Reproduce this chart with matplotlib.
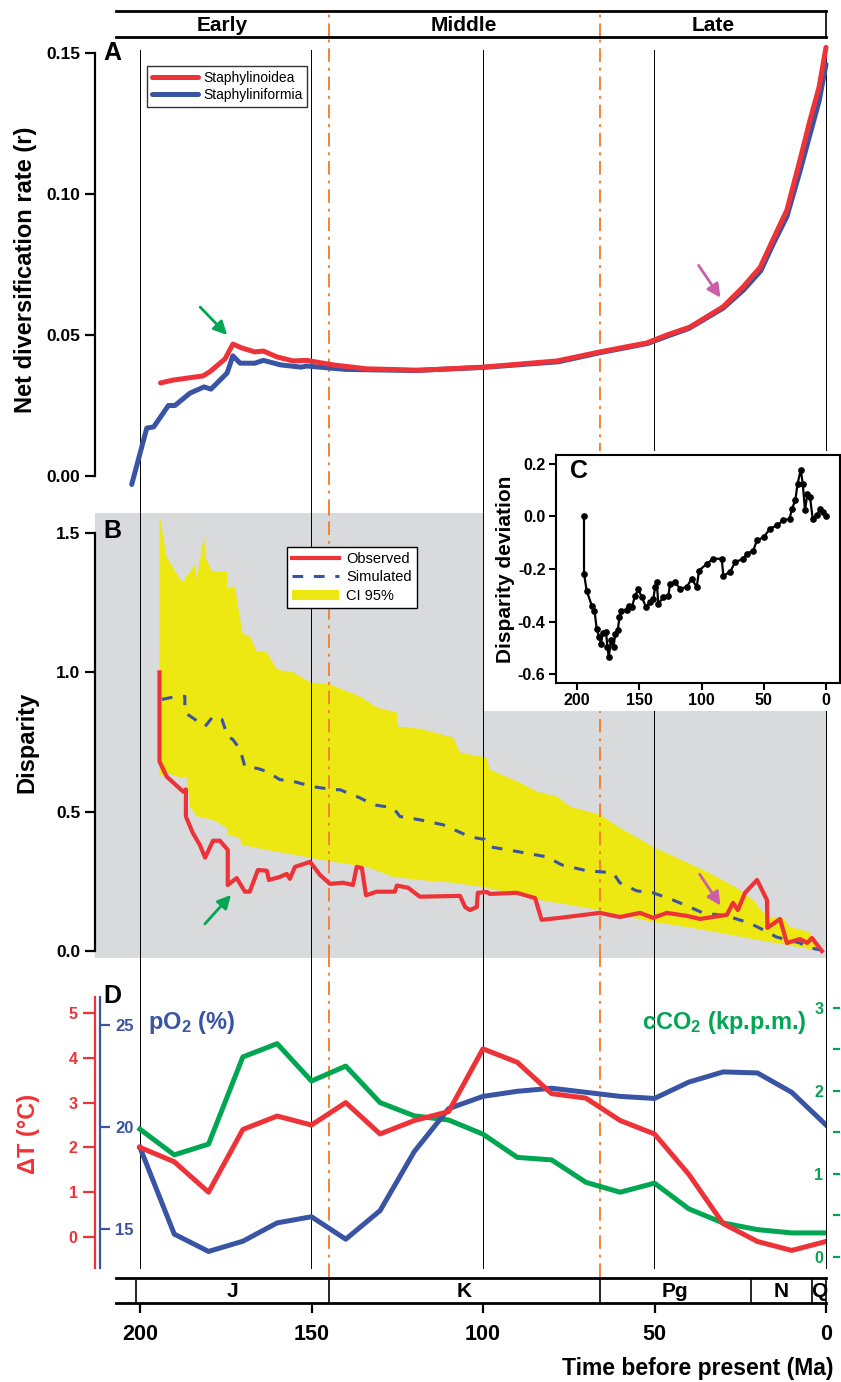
import numpy as np
import matplotlib
matplotlib.use("Agg")
import matplotlib.pyplot as plt
from matplotlib.patches import Rectangle

plt.rcParams['font.family'] = ['Liberation Sans', 'DejaVu Sans']
plt.rcParams['mathtext.fontset'] = 'custom'
plt.rcParams['mathtext.rm'] = 'Liberation Sans:bold'
plt.rcParams['mathtext.default'] = 'rm'

W, H = 841, 1382

RED = '#ee3338'
BLUE = '#3a54a4'
GREEN = '#00a651'
ORANGE = '#f58232'
YELLOW = '#ede712'
GRAY = '#d9dadc'
PINK = '#c85fa8'

# ---- time scale ----
epochs = ['Early', 'Middle', 'Late']
epoch_edges = [207, 145, 66, 0]
periods = ['J', 'K', 'Pg', 'N', 'Q']
period_edges = [201.3, 145, 66, 22, 4, 0]
grid_times = [200, 150, 100, 50, 0]
boundary_times = [145, 66]

# ---- A: net diversification rate ----
div_red_t = [194, 190.4, 181.6, 179.6, 175.2, 172.9, 170.3, 166.5, 164, 160, 155.3, 151.4,
             143.7, 133.9, 118.4, 100, 78.4, 65.9, 52.2, 46.4, 39.7, 30, 24.2, 19.2, 15.5,
             11.4, 7.6, 4.7, 2, 0]
div_red = [0.033, 0.034, 0.0355, 0.037, 0.0415, 0.0468, 0.0454, 0.044, 0.0443, 0.0422, 0.0408,
           0.041, 0.0394, 0.038, 0.0375, 0.0386, 0.0408, 0.044, 0.0472, 0.050, 0.0528, 0.060,
           0.067, 0.074, 0.0837, 0.0943, 0.112, 0.126, 0.138, 0.152]
div_blue_t = [202.4, 198, 196, 191.7, 189.8, 185.4, 181.3, 179.3, 174.6, 172.9, 170.8, 166.5,
              164, 159, 153, 151.4, 140, 120, 100, 78, 66, 52, 46, 40, 30, 24, 19, 15.5, 11.4,
              7.6, 4.7, 2, 0]
div_blue = [-0.003, 0.017, 0.0174, 0.025, 0.025, 0.0294, 0.0316, 0.0308, 0.0365, 0.0426, 0.040,
            0.040, 0.041, 0.0394, 0.0386, 0.039, 0.0378, 0.0374, 0.0385, 0.0405, 0.0437, 0.047,
            0.0497, 0.0523, 0.0595, 0.066, 0.0728, 0.082, 0.092, 0.108, 0.121, 0.133, 0.146]
arrowA_green = [(183, 0.0606), (174, 0.0493)]
arrowA_pink = [(37.6, 0.0755), (30.3, 0.0624)]

# ---- B: disparity ----
obs_t = [194.3, 194.3, 192.2, 187.4, 186.6, 186.6, 184.6, 182.5, 181, 178.7, 176.7, 174.4, 174.4,
         171.8, 169.4, 168, 165.6, 163, 162.4, 159.2, 157.2, 156.3, 154.8, 150.4, 147.5, 144.6,
         140.8, 137.9, 136.8, 135.3, 134.1, 131, 125.7, 125.1, 121.8, 118.4, 106.7, 105.2, 103.8,
         101.8, 101.5, 98.9, 98, 90.2, 84.8, 82.9, 77.6, 65.9, 60.1, 54.2, 50.4, 46.4, 40.5, 36.7,
         28.9, 27.1, 25.7, 23.6, 20.1, 17.2, 17.1, 13.4, 11.4, 7.6, 5.5, 4.1, 1.2]
obs_v = [1.0, 0.68, 0.626, 0.572, 0.58, 0.483, 0.424, 0.38, 0.335, 0.396, 0.396, 0.363, 0.237,
         0.262, 0.213, 0.213, 0.291, 0.288, 0.255, 0.266, 0.277, 0.259, 0.302, 0.32, 0.273, 0.241,
         0.245, 0.237, 0.302, 0.298, 0.2, 0.213, 0.213, 0.235, 0.227, 0.195, 0.198, 0.158, 0.147,
         0.158, 0.209, 0.212, 0.205, 0.209, 0.19, 0.112, 0.119, 0.137, 0.122, 0.137, 0.119, 0.137,
         0.126, 0.115, 0.13, 0.173, 0.147, 0.209, 0.255, 0.183, 0.083, 0.115, 0.029, 0.043, 0.029,
         0.047, 0.0]
sim_t = [193.6, 189.3, 186.9, 186.9, 181, 178.7, 176.1, 174.4, 172.9, 170.8, 169.4, 165.6, 163,
         159.2, 156.3, 149.6, 143.7, 141.7, 135.9, 132, 126.2, 124.2, 118.4, 111.6, 103.8, 99.4,
         98, 91.3, 81.4, 77, 69.7, 62.1, 60.1, 55.2, 50.4, 44.6, 40.5, 35.9, 28.9, 22.2, 18.3,
         14.4, 7.6, 5.5, 1.7]
sim_v = [0.903, 0.914, 0.914, 0.856, 0.806, 0.842, 0.831, 0.77, 0.759, 0.723, 0.662, 0.655, 0.644,
         0.615, 0.612, 0.59, 0.579, 0.579, 0.55, 0.525, 0.514, 0.483, 0.471, 0.453, 0.41, 0.4,
         0.374, 0.36, 0.338, 0.309, 0.288, 0.281, 0.245, 0.216, 0.209, 0.183, 0.162, 0.137, 0.126,
         0.1, 0.076, 0.05, 0.029, 0.014, 0.004]
ci_up_t = [194.3, 192.2, 187.8, 186.6, 184, 183.4, 181.3, 180.7, 179, 176.1, 174.6, 174.6, 172.3,
           171.4, 170, 168, 166, 163, 160, 155.3, 150.4, 144.6, 138.8, 135.9, 131, 125.1, 124.8,
           118.4, 108.7, 106.7, 98.9, 98, 89.2, 84.3, 78.4, 74.6, 65.9, 60.1, 50.4, 40.5, 34.7,
           26, 21.3, 17.2, 12.5, 10.5, 4.7, 3.8, 1.7]
ci_up = [1.568, 1.414, 1.324, 1.342, 1.385, 1.335, 1.49, 1.406, 1.363, 1.36, 1.363, 1.3, 1.309,
         1.237, 1.137, 1.13, 1.076, 1.072, 1.01, 1.0, 0.964, 0.957, 0.928, 0.914, 0.874, 0.856,
         0.806, 0.798, 0.766, 0.712, 0.694, 0.651, 0.604, 0.572, 0.554, 0.518, 0.489, 0.442,
         0.374, 0.317, 0.284, 0.227, 0.183, 0.122, 0.119, 0.086, 0.068, 0.032, 0.011]
ci_lo_t = [194.3, 192.2, 188.3, 186.3, 185.4, 183.4, 178.7, 174.6, 174.4, 170.8, 170.3, 163,
           153.4, 143.7, 133.8, 126.2, 118.4, 108.7, 100, 83.4, 69.7, 60.1, 50.4, 40.5, 30.9,
           21.3, 11.4, 1.7]
ci_lo = [0.626, 0.64, 0.622, 0.626, 0.518, 0.483, 0.471, 0.442, 0.417, 0.406, 0.381, 0.363,
         0.342, 0.32, 0.302, 0.266, 0.255, 0.245, 0.23, 0.183, 0.155, 0.13, 0.104, 0.086, 0.065,
         0.043, 0.022, 0.0]
arrowB_green = [(181.6, 0.09), (172.9, 0.209)]
arrowB_pink = [(37.3, 0.284), (30.3, 0.155)]

# ---- C: disparity deviation ----
dev_t = [194.4, 194.4, 192.2, 188.2, 186, 184.2, 182.1, 180.7, 179.4, 176.7, 175.6, 174.5, 172.8,
         170.7, 169.3, 167.3, 165.9, 164.5, 160, 158.6, 155.9, 153.4, 150.7, 148, 144.6, 141.4,
         138.7, 137.3, 136, 134.7, 130.6, 126.6, 125.3, 121.3, 117.3, 111.9, 107.9, 103.9, 102,
         95.8, 90.5, 83.8, 82.5, 77.1, 73.1, 66.4, 63.7, 58.4, 55.6, 50.2, 45, 39.6, 34.3, 29.3,
         27.4, 24.7, 22.9, 20.3, 18.7, 16.9, 15, 12.9, 10.7, 7.5, 4.8, 2.1, 0.2]
dev_v = [0.0, -0.218, -0.284, -0.339, -0.358, -0.428, -0.46, -0.485, -0.444, -0.44, -0.498,
         -0.536, -0.472, -0.498, -0.447, -0.432, -0.384, -0.358, -0.355, -0.339, -0.345, -0.301,
         -0.278, -0.307, -0.345, -0.326, -0.313, -0.269, -0.25, -0.333, -0.307, -0.301, -0.256,
         -0.25, -0.275, -0.269, -0.237, -0.269, -0.206, -0.18, -0.161, -0.161, -0.225, -0.212,
         -0.174, -0.161, -0.142, -0.13, -0.091, -0.079, -0.047, -0.034, -0.015, -0.009, 0.029,
         0.061, 0.124, 0.178, 0.124, 0.023, 0.086, 0.074, -0.009, 0.004, 0.029, 0.016, 0.0]

# ---- D: palaeoclimate ----
clim_t = [200, 190, 180, 170, 160, 150, 140, 130, 120, 110, 100, 90, 80, 70, 60, 50, 40, 30, 20, 10, 0]
temp = [2.0, 1.68, 1.0, 2.4, 2.7, 2.5, 3.0, 2.3, 2.6, 2.8, 4.2, 3.9, 3.2, 3.1, 2.6, 2.3, 1.4, 0.3,
        -0.1, -0.3, -0.1]
po2 = [19.0, 14.75, 13.9, 14.4, 15.3, 15.6, 14.5, 15.9, 18.8, 20.9, 21.5, 21.75, 21.9, 21.7, 21.5,
       21.4, 22.2, 22.7, 22.65, 21.7, 20.1]
co2 = [1.54, 1.23, 1.36, 2.41, 2.57, 2.12, 2.30, 1.86, 1.70, 1.65, 1.48, 1.20, 1.17, 0.90, 0.78,
       0.89, 0.58, 0.41, 0.33, 0.29, 0.29]


def box(x0, y0, x1, y1):
    return [x0 / W, 1 - y1 / H, (x1 - x0) / W, (y1 - y0) / H]


def fxy(x, y):
    return x / W, 1 - y / H


def time_lines(ax, ymin=0, ymax=1):
    for t in grid_times:
        ax.axvline(t, ymin=ymin, ymax=ymax, color='k', lw=0.7, zorder=1.5, clip_on=False)
    for t in boundary_times:
        ax.axvline(t, color=ORANGE, lw=1.4, ls=(0, (7, 3, 1.5, 3)), zorder=1.5)


def left_axis(ax, lo, hi, ticks, labels, color='k', size=12.5):
    for s in ['top', 'right', 'bottom']:
        ax.spines[s].set_visible(False)
    ax.spines['left'].set_linewidth(1.6)
    ax.spines['left'].set_color(color)
    ax.spines['left'].set_bounds(lo, hi)
    ax.set_xticks([])
    ax.set_yticks(ticks)
    ax.set_yticklabels(labels, fontsize=size, fontweight='bold', color=color)
    ax.tick_params(axis='y', length=7, width=1.6, pad=3.5, color=color)


fig = plt.figure(figsize=(W / 100, H / 100), dpi=100)
XLIM = (213.1, 0)

# ---- epoch bar ----
axT = fig.add_axes(box(116, 11, 826, 37))
axT.set_xlim(207, 0)
axT.set_ylim(0, 1)
axT.set_xticks([])
axT.set_yticks([])
axT.spines['left'].set_visible(False)
axT.spines['top'].set_linewidth(2)
axT.spines['bottom'].set_linewidth(2)
axT.spines['right'].set_linewidth(1.2)
for t in boundary_times:
    axT.axvline(t, color=ORANGE, lw=1.4, ls=(0, (7, 3, 1.5, 3)))
for name, a, b in zip(epochs, epoch_edges[:-1], epoch_edges[1:]):
    axT.text((a + b) / 2, 0.45, name, ha='center', va='center', fontsize=15, fontweight='bold')

# ---- A ----
axA = fig.add_axes(box(95, 37, 826, 513))
axA.set_xlim(XLIM)
axA.set_ylim(-0.01312, 0.15567)
axA.patch.set_visible(False)
left_axis(axA, 0, 0.15, [0, 0.05, 0.10, 0.15], ['0.00', '0.05', '0.10', '0.15'])
time_lines(axA, ymax=463 / 476)
axA.plot(div_blue_t, div_blue, color=BLUE, lw=3.6, solid_capstyle='round', zorder=3,
         label='Staphyliniformia', clip_on=False)
axA.plot(div_red_t, div_red, color=RED, lw=3.6, solid_capstyle='round', zorder=4,
         label='Staphylinoidea', clip_on=False)
for (tail, tip), col in [(arrowA_green, GREEN), (arrowA_pink, PINK)]:
    axA.annotate('', xy=tip, xytext=tail,
                 arrowprops=dict(arrowstyle='-|>', color=col, lw=2, mutation_scale=20), zorder=5)
hA, lA = axA.get_legend_handles_labels()
legA = axA.legend(hA[::-1], lA[::-1], loc='upper left', bbox_to_anchor=fxy(147, 66),
                  bbox_transform=fig.transFigure, borderaxespad=0, fontsize=10, frameon=True,
                  fancybox=False, edgecolor='k', handlelength=3.3, handletextpad=0.4,
                  labelspacing=0.2, borderpad=0.35)
legA.get_frame().set_linewidth(1.0)
axA.set_ylabel('Net diversification rate (r)', fontsize=17, fontweight='bold')
axA.yaxis.set_label_coords(-0.079, 0.51)
fig.text(*fxy(112, 53), 'A', ha='center', va='center', fontsize=18, fontweight='bold')

# ---- B ----
axB = fig.add_axes(box(95, 513, 826, 958))
axB.set_xlim(XLIM)
axB.set_ylim(-0.025, 1.572)
axB.set_facecolor(GRAY)
left_axis(axB, 0, 1.5, [0, 0.5, 1.0, 1.5], ['0.0', '0.5', '1.0', '1.5'])
time_lines(axB)
axB.fill(np.r_[ci_up_t, ci_lo_t[::-1]], np.r_[ci_up, ci_lo[::-1]], color=YELLOW, lw=0,
         zorder=1, label='CI 95%')
axB.plot(sim_t, sim_v, color=BLUE, lw=2.2, dashes=(3.5, 3.5), zorder=3, label='Simulated')
axB.plot(obs_t, obs_v, color=RED, lw=3, zorder=4, label='Observed')
for (tail, tip), col in [(arrowB_green, GREEN), (arrowB_pink, PINK)]:
    axB.annotate('', xy=tip, xytext=tail,
                 arrowprops=dict(arrowstyle='-|>', color=col, lw=2, mutation_scale=20), zorder=5)
hB, lB = axB.get_legend_handles_labels()
legB = axB.legend(hB[::-1], lB[::-1], loc='upper left', bbox_to_anchor=fxy(287, 547),
                  bbox_transform=fig.transFigure, borderaxespad=0, fontsize=10.5, frameon=True,
                  fancybox=False, edgecolor='k', framealpha=1, handlelength=3.2,
                  handletextpad=0.5, labelspacing=0.3, borderpad=0.35)
legB.get_frame().set_linewidth(1.0)
axB.set_ylabel('Disparity', fontsize=17, fontweight='bold')
axB.yaxis.set_label_coords(-0.078, 0.485)
fig.text(*fxy(112, 531), 'B', ha='center', va='center', fontsize=18, fontweight='bold')

# ---- C inset ----
fig.add_artist(Rectangle(fxy(484, 711), 357 / W, 260 / H, transform=fig.transFigure,
                         facecolor='white', edgecolor='none', zorder=5))
axC = fig.add_axes(box(556, 455, 840, 683))
axC.set_zorder(10)
axC.plot(dev_t, dev_v, color='k', lw=1.6, marker='o', ms=3.8)
axC.set_xlim(216.9, -11.2)
axC.set_ylim(-0.634, 0.234)
axC.set_xticks([200, 150, 100, 50, 0])
axC.set_yticks([-0.6, -0.4, -0.2, 0.0, 0.2])
axC.set_yticklabels(['-0.6', '-0.4', '-0.2', '0.0', '0.2'])
for s in axC.spines.values():
    s.set_linewidth(1.5)
axC.tick_params(length=5, width=1.5, pad=2.5, labelsize=11.5)
for lab in axC.get_xticklabels() + axC.get_yticklabels():
    lab.set_fontweight('bold')
axC.set_ylabel('Disparity deviation', fontsize=15, fontweight='bold')
axC.yaxis.set_label_coords(-0.145, 0.5)
axC.text(0.05, 0.93, 'C', transform=axC.transAxes, ha='left', va='center', fontsize=18,
         fontweight='bold')

# ---- D ----
axD = fig.add_axes(box(95, 958, 826, 1277))
axO2 = axD.twinx()
axCO2 = axD.twinx()
axCO2.set_zorder(1)
axO2.set_zorder(2)
axD.set_zorder(3)
axD.patch.set_visible(False)
axD.set_xlim(XLIM)

axD.set_ylim(-0.893, 6.228)
left_axis(axD, -0.692, 5.357, [0, 1, 2, 3, 4, 5], ['0', '1', '2', '3', '4', '5'], color=RED,
          size=11.5)
axD.tick_params(axis='y', length=8.5, pad=4)
axD.plot(clim_t, temp, color=RED, lw=3.6)
axD.set_ylabel('ΔT (°C)', fontsize=17, fontweight='bold', color=RED)
axD.yaxis.set_label_coords(-0.075, 0.45)

axO2.set_ylim(12.647, 28.284)
for s in ['top', 'left', 'bottom']:
    axO2.spines[s].set_visible(False)
axO2.spines['right'].set_position(('axes', 5 / 731))
axO2.spines['right'].set_color(BLUE)
axO2.spines['right'].set_linewidth(1.6)
axO2.spines['right'].set_bounds(13.088, 26.373)
axO2.set_yticks([15, 20, 25])
axO2.set_yticklabels(['15', '20', '25'], fontsize=12, fontweight='bold', color=BLUE)
axO2.tick_params(axis='y', length=7, width=1.6, pad=4, color=BLUE)
axO2.plot(clim_t, po2, color=BLUE, lw=3.6)

axCO2.set_ylim(-0.241, 3.602)
for s in axCO2.spines.values():
    s.set_visible(False)
axCO2.yaxis.tick_left()
axCO2.spines['left'].set_position(('axes', 745 / 731))
axCO2.set_yticks([0, 1, 2, 3])
axCO2.set_yticks([0.5, 1.5, 2.5], minor=True)
axCO2.set_yticklabels(['0', '1', '2', '3'], fontsize=11.5, fontweight='bold', color=GREEN)
axCO2.tick_params(axis='y', which='both', length=5, width=1.6, pad=7, color=GREEN)
axCO2.plot(clim_t, co2, color=GREEN, lw=3.6)
time_lines(axCO2, ymin=9 / 319)

fig.text(*fxy(112, 996), 'D', ha='center', va='center', fontsize=18, fontweight='bold')
fig.text(*fxy(148, 1023), 'pO$_2$ (%)', ha='left', va='center', fontsize=17,
         fontweight='bold', color=BLUE)
fig.text(*fxy(807, 1022), 'cCO$_2$ (kp.p.m.)', ha='right', va='center', fontsize=17,
         fontweight='bold', color=GREEN)

# ---- period bar ----
axP = fig.add_axes(box(116, 1278, 826, 1303))
axP.set_xlim(207, 0)
axP.set_ylim(0, 1)
axP.set_yticks([])
axP.spines['left'].set_visible(False)
axP.spines['top'].set_linewidth(2)
axP.spines['bottom'].set_linewidth(2)
axP.spines['right'].set_linewidth(1.2)
for t in period_edges[:-1]:
    axP.axvline(t, color='k', lw=1.2)
for name, a, b in zip(periods, period_edges[:-1], period_edges[1:]):
    axP.text((a + b) / 2, 0.45, name, ha='center', va='center', fontsize=15, fontweight='bold')
axP.set_xticks(grid_times)
axP.set_xticklabels([str(t) for t in grid_times], fontsize=15.5, fontweight='bold')
axP.tick_params(axis='x', length=7, width=1.6, pad=8)
fig.text(*fxy(833, 1368), 'Time before present (Ma)', ha='right', va='center', fontsize=16.5,
         fontweight='bold')

fig.savefig('out.png', dpi=100)
